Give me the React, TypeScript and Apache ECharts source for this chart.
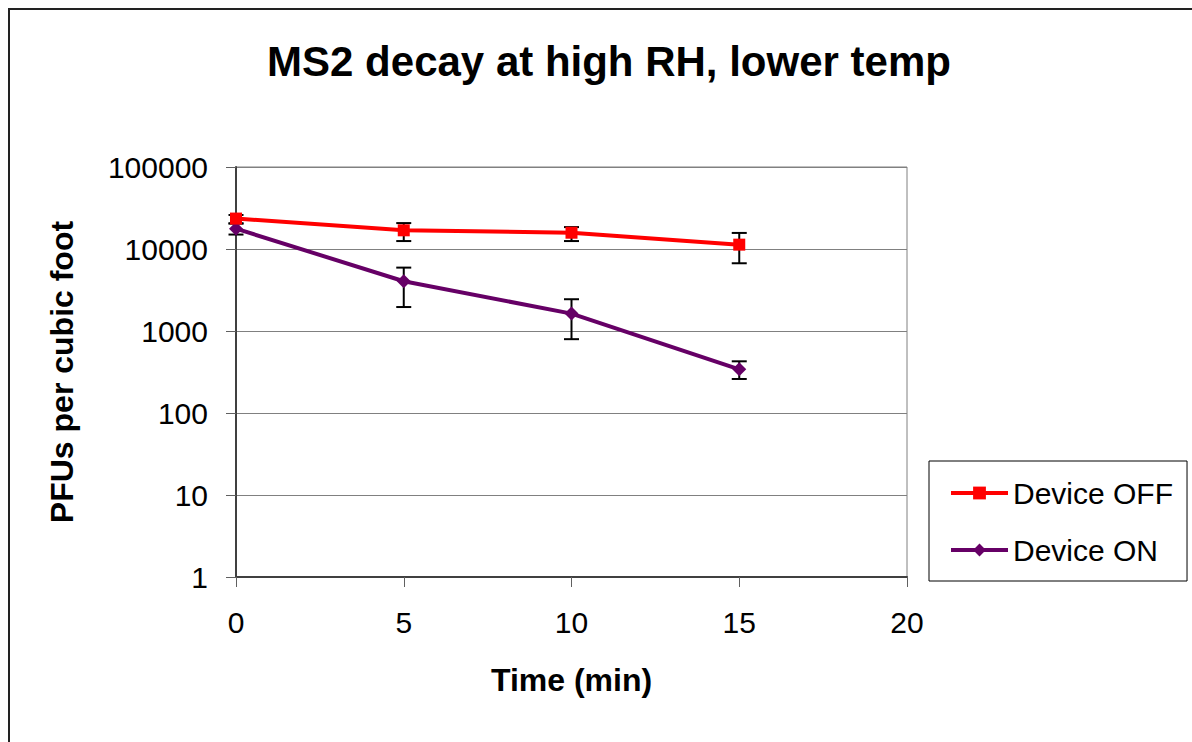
import React, { useEffect, useRef } from "react";
import * as echarts from "echarts";

const times = [0, 5, 10, 15];
const offValues = [23500, 16900, 15800, 11300];
const offLow = [20500, 12500, 12500, 6700];
const offHigh = [26000, 20700, 18500, 15700];
const onValues = [17700, 4040, 1630, 341];
const onLow = [15000, 1960, 795, 260];
const onHigh = [20500, 5930, 2440, 427];

const FONT = "'Liberation Sans', Arial, Helvetica, sans-serif";

function errorSeries(name: string, low: number[], high: number[]) {
  return {
    type: "custom",
    name: name + " err",
    z: 1,
    silent: true,
    data: times.map((t, i) => [t, low[i], high[i]]),
    renderItem: (params: any, api: any) => {
      const x = api.value(0);
      const lo = api.coord([x, api.value(1)]);
      const hi = api.coord([x, api.value(2)]);
      const w = 7.5;
      const style = { stroke: "#000", lineWidth: 2 };
      return {
        type: "group",
        children: [
          { type: "line", shape: { x1: lo[0], y1: lo[1], x2: hi[0], y2: hi[1] }, style },
          { type: "line", shape: { x1: lo[0] - w, y1: lo[1], x2: lo[0] + w, y2: lo[1] }, style },
          { type: "line", shape: { x1: hi[0] - w, y1: hi[1], x2: hi[0] + w, y2: hi[1] }, style },
        ],
      };
    },
  };
}

export default function App() {
  const ref = useRef<HTMLDivElement>(null);
  useEffect(() => {
    if (!ref.current) return;
    const chart = echarts.init(ref.current, null, { renderer: "svg" });
    chart.setOption({
      animation: false,
      backgroundColor: "#fff",
      textStyle: { fontFamily: FONT },
      title: {
        text: "MS2 decay at high RH, lower temp",
        left: 604,
        top: 35,
        textAlign: "center",
        textStyle: { fontSize: 42, fontWeight: "bold", color: "#000", fontFamily: FONT },
      },
      graphic: [
        {
          type: "rect",
          shape: { x: 9, y: 9, width: 1200, height: 800 },
          style: { fill: "none", stroke: "#222", lineWidth: 2 },
          silent: true,
        },
      ],
      legend: {
        data: ["Device OFF", "Device ON"],
        orient: "vertical",
        left: 929,
        top: 461,
        padding: [15, 14, 14, 20],
        itemWidth: 57,
        itemHeight: 16,
        itemGap: 23,
        borderColor: "#000",
        borderWidth: 1,
        lineStyle: { width: 4 },
        textStyle: { fontSize: 30, lineHeight: 34, color: "#000", fontFamily: FONT },
      },
      grid: {
        left: 236,
        right: 285,
        top: 167,
        bottom: 165,
        show: true,
        borderColor: "#808080",
        borderWidth: 1,
      },
      xAxis: {
        type: "value",
        min: 0,
        max: 20,
        interval: 5,
        name: "Time (min)",
        nameLocation: "middle",
        nameGap: 87,
        nameTextStyle: { fontSize: 32, fontWeight: "bold", color: "#000", fontFamily: FONT },
        axisLine: { show: true, lineStyle: { color: "#404040", width: 2 } },
        axisTick: { show: true, length: 10, lineStyle: { color: "#606060", width: 1 } },
        axisLabel: { fontSize: 30, color: "#000", margin: 30, fontFamily: FONT },
        splitLine: { show: false },
      },
      yAxis: {
        type: "log",
        logBase: 10,
        min: 1,
        max: 100000,
        name: "PFUs per cubic foot",
        nameLocation: "middle",
        nameGap: 158,
        nameRotate: 90,
        nameTextStyle: { fontSize: 32, fontWeight: "bold", color: "#000", fontFamily: FONT },
        axisLine: { show: true, lineStyle: { color: "#404040", width: 2 } },
        axisTick: { show: true, length: 10, lineStyle: { color: "#606060", width: 1 } },
        axisLabel: {
          fontSize: 30,
          color: "#000",
          margin: 28,
          fontFamily: FONT,
          formatter: (v: number) => String(Math.round(v)),
        },
        splitLine: { show: true, lineStyle: { color: "#808080", width: 1 } },
      },
      series: [
        errorSeries("Device OFF", offLow, offHigh),
        errorSeries("Device ON", onLow, onHigh),
        {
          type: "line",
          name: "Device OFF",
          z: 3,
          data: times.map((t, i) => [t, offValues[i]]),
          symbol: "rect",
          symbolSize: 12,
          lineStyle: { color: "#ff0000", width: 4 },
          itemStyle: { color: "#ff0000" },
        },
        {
          type: "line",
          name: "Device ON",
          z: 2,
          data: times.map((t, i) => [t, onValues[i]]),
          symbol: "diamond",
          symbolSize: 14,
          lineStyle: { color: "#660066", width: 4 },
          itemStyle: { color: "#660066" },
        },
      ],
    });
    return () => chart.dispose();
  }, []);
  return (
    <div
      ref={ref}
      style={{ position: "absolute", left: 0, top: 0, width: 1192, height: 742 }}
    />
  );
}
